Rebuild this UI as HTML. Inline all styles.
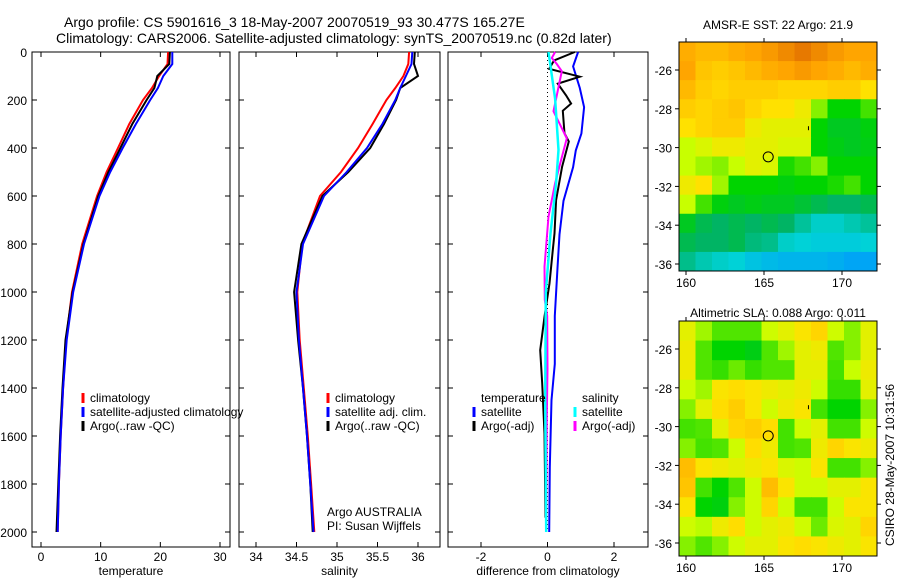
<!DOCTYPE html>
<html><head><meta charset="utf-8"><style>
body{margin:0;background:#fff;}
svg text{font-family:"Liberation Sans",sans-serif;fill:#000;}
</style></head><body>
<svg id="c" width="900" height="580" xmlns="http://www.w3.org/2000/svg">
<text x="64" y="27" font-size="14">Argo profile: CS 5901616_3 18-May-2007 20070519_93 30.477S 165.27E</text>
<text x="56" y="43" font-size="14">Climatology: CARS2006. Satellite-adjusted climatology: synTS_20070519.nc (0.82d later)</text>
<text x="778" y="29" font-size="12" text-anchor="middle">AMSR-E SST: 22  Argo: 21.9</text>
<text x="778" y="317" font-size="12" text-anchor="middle">Altimetric SLA: 0.088  Argo: 0.011</text>
<text transform="translate(894,465) rotate(-90)" font-size="12" text-anchor="middle">CSIRO 28-May-2007 10:31:56</text>
<text x="327" y="516" font-size="12">Argo AUSTRALIA</text>
<text x="327" y="530" font-size="12">PI: Susan Wijffels</text>
</svg>
<script>
const depths=[0,50,100,150,200,300,400,500,600,800,1000,1200,1400,1600,1800,2000];
const tempClim=[21.3,21.2,19.8,18.6,17.1,14.8,12.9,11.0,9.4,6.9,5.2,4.2,3.7,3.3,3.0,2.8];
const tempSat=[22.0,22.0,20.5,19.6,18.3,15.9,13.7,11.6,9.8,7.2,5.4,4.3,3.7,3.3,3.0,2.8];
const tempArgo=[21.6,21.5,19.5,19.0,17.7,15.3,13.3,11.3,9.6,7.1,5.3,4.1,3.6,3.2,2.9,2.6];
const salClim=[35.89,35.88,35.82,35.72,35.61,35.44,35.26,35.05,34.79,34.57,34.51,34.54,34.59,34.64,34.68,34.72];
const salSat=[35.93,35.92,35.85,35.78,35.72,35.56,35.37,35.12,34.84,34.58,34.50,34.53,34.58,34.63,34.67,34.71];
const salArgo=[35.96,35.95,36.00,35.78,35.73,35.58,35.41,35.14,34.82,34.56,34.47,34.52,34.58,34.63,34.67,34.70];
const dTSatDepth=[0,60,150,230,340,410,480,620,760,900,1100,1300,1450,1730,2000];
const dTSat=[0.92,0.77,0.97,1.1,1.02,0.85,0.77,0.48,0.36,0.3,0.22,0.22,0.12,0.07,0.05];
const dTArgoDepth=[0,35,70,103,132,181,215,245,339,373,478,617,756,825,964,1103,1242,1381,1590,1940];
const dTArgo=[0.82,0.2,0.05,0.97,0.31,0.56,0.71,0.46,0.51,0.64,0.44,0.26,0.21,0.16,0.06,-0.09,-0.22,-0.16,-0.09,-0.06];
const dSSatDepth=[0,194,408,547,756,1000,1450,2000];
const dSSat=[0.03,0.23,0.33,0.26,0.09,-0.05,-0.07,-0.04];
const dSArgoDepth=[0,25,50,80,247,303,360,450,547,686,894,1033,1100,1320,1520,2000];
const dSArgo=[0.23,0.13,0.28,0.43,0.18,0.38,0.58,0.41,0.23,0.03,-0.09,-0.08,-0.01,0.0,-0.02,-0.04];
const depthTicks=[0,200,400,600,800,1000,1200,1400,1600,1800,2000];
const tempTicks=[0,10,20,30];
const salTicks=[34,34.5,35,35.5,36];
const salTickLabels=["34","34.5","35","35.5","36"];
const diffTicks=[-2,0,2];
const lonTicks=[160,165,170];
const latTicks=[-26,-28,-30,-32,-34,-36];
const sstGrid=[
[0.88,0.85,0.85,0.88,0.9,0.92,0.95,0.98,0.95,0.92,0.9,0.9],
[0.9,0.82,0.8,0.82,0.85,0.88,0.9,0.92,0.9,0.88,0.85,0.88],
[0.85,0.8,0.78,0.8,0.8,0.8,0.78,0.78,0.78,0.8,0.8,0.75],
[0.8,0.78,0.8,0.82,0.78,0.75,0.75,0.72,0.6,0.5,0.5,0.55],
[0.75,0.78,0.8,0.8,0.72,0.7,0.7,0.7,0.5,0.45,0.45,0.48],
[0.65,0.68,0.72,0.72,0.7,0.7,0.68,0.68,0.5,0.47,0.45,0.47],
[0.65,0.62,0.6,0.65,0.7,0.68,0.52,0.55,0.6,0.5,0.5,0.5],
[0.72,0.75,0.62,0.5,0.5,0.5,0.48,0.5,0.5,0.52,0.55,0.5],
[0.65,0.55,0.48,0.45,0.47,0.45,0.45,0.42,0.38,0.35,0.35,0.38],
[0.45,0.38,0.35,0.38,0.35,0.38,0.35,0.28,0.22,0.22,0.25,0.28],
[0.38,0.35,0.35,0.38,0.32,0.3,0.22,0.2,0.18,0.18,0.18,0.2],
[0.3,0.25,0.22,0.2,0.15,0.12,0.1,0.1,0.1,0.08,0.05,0.05]];
const slaGrid=[
[0.7,0.62,0.56,0.56,0.56,0.66,0.7,0.74,0.78,0.66,0.6,0.7],
[0.72,0.56,0.5,0.5,0.47,0.56,0.62,0.7,0.72,0.56,0.6,0.7],
[0.72,0.56,0.54,0.58,0.54,0.56,0.56,0.7,0.7,0.55,0.65,0.72],
[0.66,0.62,0.74,0.76,0.74,0.72,0.7,0.72,0.66,0.54,0.54,0.7],
[0.6,0.7,0.76,0.8,0.74,0.66,0.72,0.74,0.55,0.5,0.5,0.6],
[0.55,0.56,0.7,0.78,0.8,0.76,0.55,0.66,0.7,0.55,0.55,0.66],
[0.6,0.55,0.56,0.66,0.76,0.72,0.55,0.56,0.72,0.78,0.74,0.72],
[0.84,0.74,0.72,0.7,0.72,0.74,0.68,0.66,0.74,0.55,0.55,0.6],
[0.82,0.55,0.5,0.56,0.66,0.84,0.74,0.66,0.66,0.7,0.7,0.74],
[0.74,0.5,0.48,0.6,0.66,0.78,0.66,0.55,0.55,0.66,0.74,0.74],
[0.66,0.64,0.72,0.76,0.66,0.7,0.72,0.66,0.58,0.68,0.7,0.78],
[0.6,0.56,0.6,0.66,0.7,0.7,0.74,0.76,0.74,0.72,0.7,0.74]];
const argoLon=165.27, argoLat=-30.477;

const NS='http://www.w3.org/2000/svg';
const svg=document.getElementById('c');
function mk(tag,attrs,parent){const e=document.createElementNS(NS,tag);for(const k in attrs)e.setAttribute(k,attrs[k]);(parent||svg).appendChild(e);return e;}
const Y0=52, PY=0.24, BOT=547;
function yD(d){return Y0+d*PY;}
function lin(d0,d1,p0,p1){return v=>p0+(v-d0)*(p1-p0)/(d1-d0);}

function panel(name,x0,x1,xs,xt,xl,xlabel){
  const f=mk('rect',{x:x0,y:Y0,width:x1-x0,height:BOT-Y0,fill:'none',stroke:'#000','stroke-width':1});
  
  
  depthTicks.forEach(d=>{
    mk('line',{x1:x0,x2:x0+5,y1:yD(d),y2:yD(d),stroke:'#000'});
    mk('line',{x1:x1-5,x2:x1,y1:yD(d),y2:yD(d),stroke:'#000'});
  });
  xt.forEach((v,i)=>{
    mk('line',{x1:xs(v),x2:xs(v),y1:BOT,y2:BOT-5,stroke:'#000'});
    mk('line',{x1:xs(v),x2:xs(v),y1:Y0,y2:Y0+5,stroke:'#000'});
    const t=mk('text',{x:xs(v),y:BOT+14,'font-size':12,'text-anchor':'middle'});t.textContent=xl[i];
    
    
  });
  const t=mk('text',{x:(x0+x1)/2,y:BOT+28,'font-size':12,'text-anchor':'middle'});t.textContent=xlabel;
  
  
}
function line(xs,vals,ds,color,name,w){
  const pts=vals.map((v,i)=>xs(v).toFixed(1)+','+yD(ds[i]).toFixed(1)).join(' ');
  const p=mk('polyline',{points:pts,fill:'none',stroke:color,'stroke-width':w||2});
  
  
}
function legend(x,y,items,name){
  items.forEach((it,i)=>{
    const yy=y+i*14;
    if(it[0]) mk('line',{x1:x,x2:x,y1:yy-9,y2:yy+1,stroke:it[0],'stroke-width':3});
    const t=mk('text',{x:x+7,y:yy,'font-size':12});t.textContent=it[1];
    
    
  });
}
depthTicks.forEach(d=>{const t=mk('text',{x:27,y:yD(d)+5,'font-size':12,'text-anchor':'end'});t.textContent=d;
  
  });

const xT=lin(0,30,41,220);
panel('temperature-panel',32,230,xT,tempTicks,tempTicks.map(String),'temperature');
line(xT,tempClim,depths,'#f00','temp-climatology-line');
line(xT,tempArgo,depths,'#000','temp-argo-line');
line(xT,tempSat,depths,'#00f','temp-satellite-line');
legend(83,402,[['#f00','climatology'],['#00f','satellite-adjusted climatology'],['#000','Argo(..raw -QC)']],'temp-legend');
const xS=lin(34,36,256,418);
panel('salinity-panel',239,440,xS,salTicks,salTickLabels,'salinity');
line(xS,salClim,depths,'#f00','sal-climatology-line');
line(xS,salArgo,depths,'#000','sal-argo-line');
line(xS,salSat,depths,'#00f','sal-satellite-line');
legend(328,402,[['#f00','climatology'],['#00f','satellite adj. clim.'],['#000','Argo(..raw -QC)']],'sal-legend');
const xD=lin(-2,2,481,614);
panel('difference-panel',448,648,xD,diffTicks,diffTicks.map(String),'difference from climatology');
mk('line',{x1:xD(0),x2:xD(0),y1:Y0,y2:yD(2000),stroke:'#000','stroke-dasharray':'1,3'});
line(xD,dTSat,dTSatDepth,'#00f','temp-diff-satellite-line');
line(xD,dTArgo,dTArgoDepth,'#000','temp-diff-argo-line');
line(xD,dSArgo,dSArgoDepth,'#f0f','sal-diff-argo-line');
line(xD,dSSat,dSSatDepth,'#0ff','sal-diff-satellite-line',2.5);
legend(474,402,[[null,'temperature'],['#00f','satellite'],['#000','Argo(-adj)']],'diff-temp-legend');
legend(575,402,[[null,'salinity'],['#0ff','satellite'],['#f0f','Argo(-adj)']],'diff-sal-legend');

const cstops=[[0,[0,150,255]],[0.2,[0,210,215]],[0.35,[0,180,100]],[0.5,[0,212,0]],[0.65,[200,255,0]],[0.75,[255,225,0]],[0.9,[255,165,0]],[1,[225,110,0]]];
function cmap(v){for(let i=1;i<cstops.length;i++){if(v<=cstops[i][0]){const a=cstops[i-1],b=cstops[i];const t=(v-a[0])/(b[0]-a[0]);
  return 'rgb('+a[1].map((c,j)=>Math.round(c+(b[1][j]-c)*t)).join(',')+')';}}return 'rgb(225,110,0)';}
function map(name,top,bot,grid){
  const L=679,R=877;
  const xl=lin(160,170,686,842), yl=lin(-26,-36,top+28,top+222);
  const g=mk('g',{});
  
  
  const nr=grid.length,nc=grid[0].length,cw=(R-L)/nc,ch=(bot-top)/nr;
  grid.forEach((row,r)=>row.forEach((v,c)=>{
    const rc=mk('rect',{x:L+c*cw,y:top+r*ch,width:cw+0.5,height:ch+0.5,fill:cmap(v)},g);
    
    
  }));
  const f=mk('rect',{x:L,y:top,width:R-L,height:bot-top,fill:'none',stroke:'#000'});
  
  
  lonTicks.forEach(v=>{mk('line',{x1:xl(v),x2:xl(v),y1:bot,y2:bot+4,stroke:'#000'});mk('line',{x1:xl(v),x2:xl(v),y1:top,y2:top-4,stroke:'#000'});
    const t=mk('text',{x:xl(v),y:bot+16,'font-size':12,'text-anchor':'middle'});t.textContent=v;
    
    });
  latTicks.forEach(v=>{mk('line',{x1:L-4,x2:L,y1:yl(v),y2:yl(v),stroke:'#000'});mk('line',{x1:R,x2:R+4,y1:yl(v),y2:yl(v),stroke:'#000'});
    const t=mk('text',{x:L-7,y:yl(v)+5,'font-size':12,'text-anchor':'end'});t.textContent=v;
    
    });
  const c=mk('circle',{cx:xl(argoLon),cy:yl(argoLat),r:5,fill:'none',stroke:'#000'});
  
  
  mk('line',{x1:xl(167.85),x2:xl(167.85),y1:yl(-29.0)-2,y2:yl(-29.0)+2,stroke:'#000'});
}
map('sst-map',42,271,sstGrid);
map('sla-map',321,556,slaGrid);
</script>
</body></html>
